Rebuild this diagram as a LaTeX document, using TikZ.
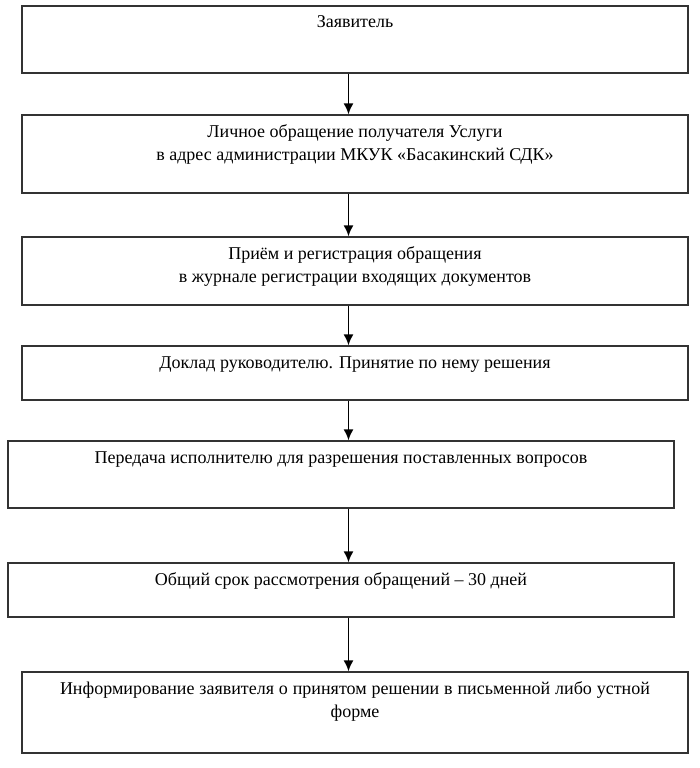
\documentclass[tikz,border=0pt]{standalone}
\usepackage{fontspec}
\setmainfont{Liberation Serif}
\usetikzlibrary{arrows.meta}
\begin{document}
\begin{tikzpicture}[x=1pt,y=-1pt,
  box/.style={draw=black!80, line width=1.3pt, inner sep=0pt},
  lbl/.style={inner sep=0pt, anchor=base, align=center, font=\fontsize{18}{23}\selectfont},
  arr/.style={line width=1.7pt, -{Latex[length=11pt,width=10pt]}}]
\useasboundingbox (0,0) rectangle (700,768);
\node[box, minimum width=666pt, minimum height=67pt] (b1) at (355,39.5) {};
\node[box, minimum width=666pt, minimum height=78pt] (b2) at (355,154) {};
\node[box, minimum width=666pt, minimum height=68pt] (b3) at (355,271) {};
\node[box, minimum width=666pt, minimum height=54pt] (b4) at (355,373) {};
\node[box, minimum width=666pt, minimum height=67pt] (b5) at (341,474.5) {};
\node[box, minimum width=666pt, minimum height=54pt] (b6) at (341,590) {};
\node[box, minimum width=666pt, minimum height=81pt] (b7) at (355,712.5) {};
\node[lbl] (t1) at (355,28) {Заявитель};
\node[lbl] (t2) at (355,160) {Личное обращение получателя Услуги\\в адрес администрации МКУК «Басакинский СДК»};
\node[lbl] (t3) at (355,282) {Приём и регистрация обращения\\в журнале регистрации входящих документов};
\node[lbl] (t4) at (355,368) {Доклад руководителю. Принятие по нему решения};
\node[lbl] (t5) at (341,463) {Передача исполнителю для разрешения поставленных вопросов};
\node[lbl] (t6) at (341,585) {Общий срок рассмотрения обращений – 30 дней};
\node[lbl] (t7) at (355,717) {\makebox[590pt][s]{Информирование заявителя о принятом решении в письменной либо устной}\\форме};
\coordinate (ax) at (348.5,0);
\draw[arr] (b1.south -| ax) -- (b2.north -| ax);
\draw[arr] (b2.south -| ax) -- (b3.north -| ax);
\draw[arr] (b3.south -| ax) -- (b4.north -| ax);
\draw[arr] (b4.south -| ax) -- (b5.north -| ax);
\draw[arr] (b5.south -| ax) -- (b6.north -| ax);
\draw[arr] (b6.south -| ax) -- (b7.north -| ax);
\end{tikzpicture}
\end{document}
